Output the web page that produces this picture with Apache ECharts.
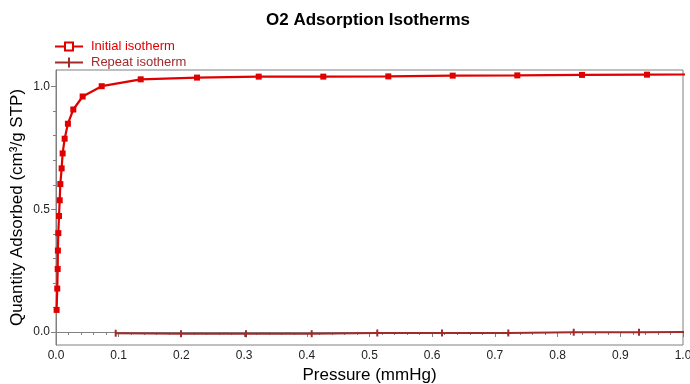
<!DOCTYPE html>
<html>
<head>
<meta charset="utf-8">
<script src="https://cdn.jsdelivr.net/npm/echarts@6/dist/echarts.min.js"></script>
<style>
  html, body { margin: 0; padding: 0; background: #fff; }
  #chart { width: 690px; height: 384px; }
</style>
</head>
<body>
<div id="chart"></div>
<script>
// O2 adsorption: initial and repeat isotherms
const initialPressure = [0.001, 0.002, 0.0027, 0.003, 0.0037, 0.0048, 0.0059, 0.0069, 0.009, 0.0106,
  0.0138, 0.019, 0.0276, 0.0425, 0.0729, 0.1351, 0.2249, 0.3233, 0.4263, 0.530,
  0.6327, 0.7357, 0.8389, 0.9426, 1.046];
const initialQuantity = [0.090, 0.177, 0.257, 0.332, 0.403, 0.473, 0.537, 0.603, 0.667, 0.728,
  0.788, 0.849, 0.907, 0.960, 1.002, 1.030, 1.037, 1.041, 1.041, 1.042,
  1.045, 1.046, 1.048, 1.049, 1.050];

const repeatPressure = [0.0952, 0.1994, 0.303, 0.4078, 0.5124, 0.6156, 0.7214, 0.8257, 0.9298, 1.034];
const repeatQuantity = [-0.005, -0.007, -0.007, -0.007, -0.004, -0.004, -0.004, -0.001, -0.001, 0.000];

const yMajorTicks = [0.0, 0.5, 1.0];
const yMinorTicks = [0.1, 0.2, 0.3, 0.4, 0.6, 0.7, 0.8, 0.9];

const FONT = '"Liberation Sans", Arial, sans-serif';
const RED = '#e00000';
const DARK_RED = '#a32a2a';
const AXIS_GRAY = '#808080';

const zip = (xs, ys) => xs.map((x, i) => [x, ys[i]]);

const Y_MIN = -0.053, Y_MAX = 1.068;

const chart = echarts.init(document.getElementById('chart'), null, { renderer: 'canvas' });
chart.setOption({
  animation: false,
  backgroundColor: '#fff',
  title: {
    text: 'O2 Adsorption Isotherms',
    left: 368,
    top: 12,
    padding: 0,
    textAlign: 'center',
    textStyle: { fontFamily: FONT, fontSize: 17, fontWeight: 'bold', color: '#000' }
  },
  legend: {
    orient: 'vertical',
    left: 55,
    top: 40,
    padding: 0,
    itemWidth: 28,
    itemHeight: 10,
    itemGap: 3,
    textStyle: { fontFamily: FONT, fontSize: 13, lineHeight: 13, padding: [0, 0, 0, 3] },
    data: [
      {
        name: 'Initial isotherm',
        icon: 'path://M0,4L9,4L9,6L0,6Z M19,4L28,4L28,6L19,6Z M9,0L19,0L19,10L9,10Z M11,2L11,8L17,8L17,2Z',
        textStyle: { color: RED }
      },
      {
        name: 'Repeat isotherm',
        icon: 'path://M0,4L28,4L28,6L0,6Z M13,0L15,0L15,10L13,10Z',
        textStyle: { color: DARK_RED }
      }
    ]
  },
  grid: {
    left: 56, right: 7, top: 70, bottom: 39,
    outerBoundsMode: 'none',
    containLabel: false,
    show: true, borderColor: AXIS_GRAY, borderWidth: 1, backgroundColor: 'transparent'
  },
  xAxis: {
    type: 'value',
    min: 0, max: 1, interval: 0.1,
    name: 'Pressure (mmHg)',
    nameLocation: 'middle',
    nameGap: 13,
    nameTextStyle: { fontFamily: FONT, fontSize: 17, color: '#000' },
    axisLine: { show: true, lineStyle: { color: AXIS_GRAY, width: 1 } },
    axisTick: { show: true, length: 5, lineStyle: { color: AXIS_GRAY } },
    minorTick: { show: true, splitNumber: 5, length: 3, lineStyle: { color: AXIS_GRAY } },
    splitLine: { show: false },
    axisLabel: {
      fontFamily: FONT, fontSize: 12, color: '#222', margin: 5,
      formatter: v => v.toFixed(1)
    }
  },
  yAxis: [
    {
      type: 'value',
      min: Y_MIN, max: Y_MAX,
      name: 'Quantity Adsorbed (cm³/g STP)',
      nameLocation: 'middle',
      nameGap: 30,
      nameMoveOverlap: false,
      nameTextStyle: { fontFamily: FONT, fontSize: 17, color: '#000' },
      axisLine: { show: true, lineStyle: { color: AXIS_GRAY, width: 1 } },
      axisTick: { show: true, length: 5, customValues: yMajorTicks, lineStyle: { color: AXIS_GRAY } },
      splitLine: { show: false },
      axisLabel: {
        fontFamily: FONT, fontSize: 12, color: '#222', margin: 6,
        customValues: yMajorTicks,
        formatter: v => v.toFixed(1)
      }
    },
    {
      // minor tick marks on the left axis
      type: 'value',
      position: 'left',
      min: Y_MIN, max: Y_MAX,
      axisLine: { show: false },
      axisTick: { show: true, length: 3, customValues: yMinorTicks, lineStyle: { color: AXIS_GRAY } },
      axisLabel: { show: false },
      splitLine: { show: false }
    }
  ],
  series: [
    {
      name: 'Initial isotherm',
      type: 'line',
      yAxisIndex: 0,
      data: zip(initialPressure, initialQuantity),
      symbol: 'rect',
      symbolSize: 6,
      showAllSymbol: true,
      color: RED,
      lineStyle: { color: RED, width: 2.2 },
      itemStyle: { color: RED },
      clip: true,
      z: 3
    },
    {
      name: 'Repeat isotherm',
      type: 'line',
      yAxisIndex: 0,
      data: zip(repeatPressure, repeatQuantity),
      symbol: 'rect',
      symbolSize: [2, 7],
      showAllSymbol: true,
      color: DARK_RED,
      lineStyle: { color: DARK_RED, width: 2 },
      itemStyle: { color: DARK_RED },
      clip: true,
      z: 2
    }
  ]
});
</script>
</body>
</html>
